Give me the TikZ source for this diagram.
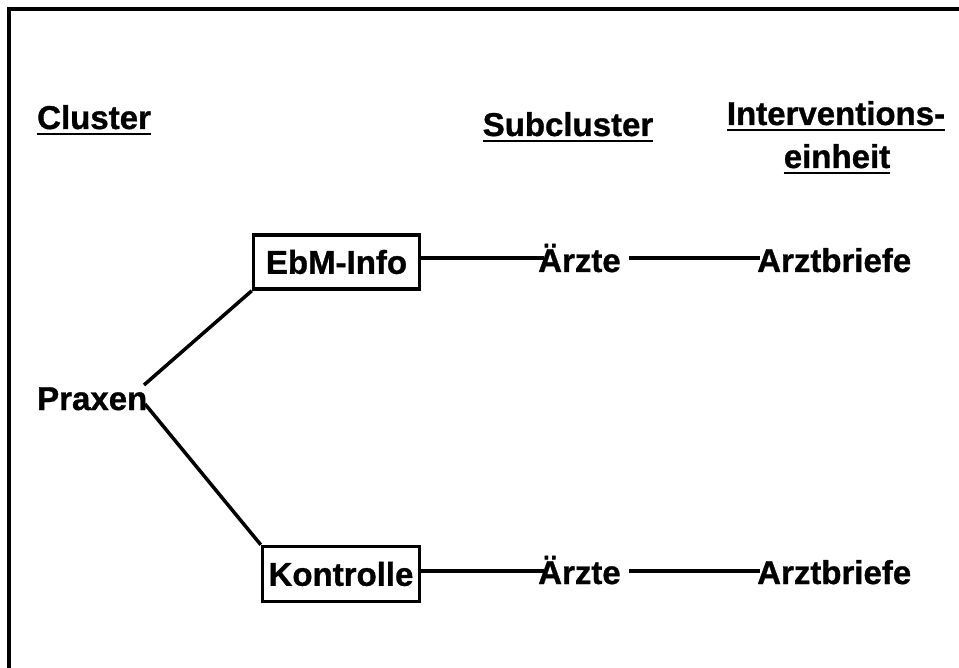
\documentclass[tikz,border=0pt]{standalone}
\usepackage{fontspec}
\setmainfont{Liberation Sans}
\newfontface\heavyface{Liberation Sans Bold}[RawFeature={embolden=1}]
\begin{document}
\begin{tikzpicture}[x=1pt,y=-1pt,
  txt/.style={inner sep=0pt, anchor=base west, font=\fontsize{33}{37}\heavyface},
  hdr/.style={inner sep=0pt, anchor=base, font=\fontsize{33}{37}\heavyface},
  boxnode/.style={draw, line width=3.5pt, inner sep=0pt, font=\fontsize{33}{37}\heavyface},
  conn/.style={line width=3.5pt},
  ul/.style={line width=2.5pt}]
\useasboundingbox (0,0) rectangle (959,668);
% frame
\coordinate (fbl) at (9,668);
\coordinate (ftl) at (9,9);
\coordinate (ftr) at (959,9);
\draw[line width=4pt] (fbl) -- (ftl) -- (ftr);
% headers
\node[txt] (cl) at (37,129) {Cluster};
\node[hdr] (sc) at (568,136) {Subcluster};
\node[hdr] (iv1) at (836,125) {Interventions-};
\node[hdr] (iv2) at (837,168) {einheit};
\foreach \n in {cl,sc,iv1,iv2}
  \draw[ul] ([yshift=-5pt]\n.base west) -- ([yshift=-5pt]\n.base east);
% tree
\node[txt] (px) at (37,410) {Praxen};
\node[boxnode, minimum width=166pt, minimum height=54pt] (ebm) at (336.5,262) {EbM-Info};
\node[boxnode, minimum width=157pt, minimum height=55pt] (ko) at (341,574) {Kontrolle};
\node[txt] (a1) at (538,272) {Ärzte};
\node[txt] (b1) at (757,272) {Arztbriefe};
\node[txt] (a2) at (538,584) {Ärzte};
\node[txt] (b2) at (757,584) {Arztbriefe};
\coordinate (p1) at (144,385);
\coordinate (p2) at (145,404);
\draw[conn] (p1) -- (ebm.south west);
\draw[conn] (p2) -- (ko.north west);
% horizontal connectors
\coordinate (e1) at ([shift={(6,-14)}]a1.base west);
\coordinate (e2) at ([shift={(6,-13)}]a2.base west);
\draw[conn] (ebm.east |- e1) -- (e1);
\draw[conn] (ko.east |- e2) -- (e2);
\draw[conn] ([shift={(8,-14)}]a1.base east) -- ([shift={(3,-14)}]b1.base west);
\draw[conn] ([shift={(8,-13)}]a2.base east) -- ([shift={(3,-13)}]b2.base west);
\end{tikzpicture}
\end{document}
